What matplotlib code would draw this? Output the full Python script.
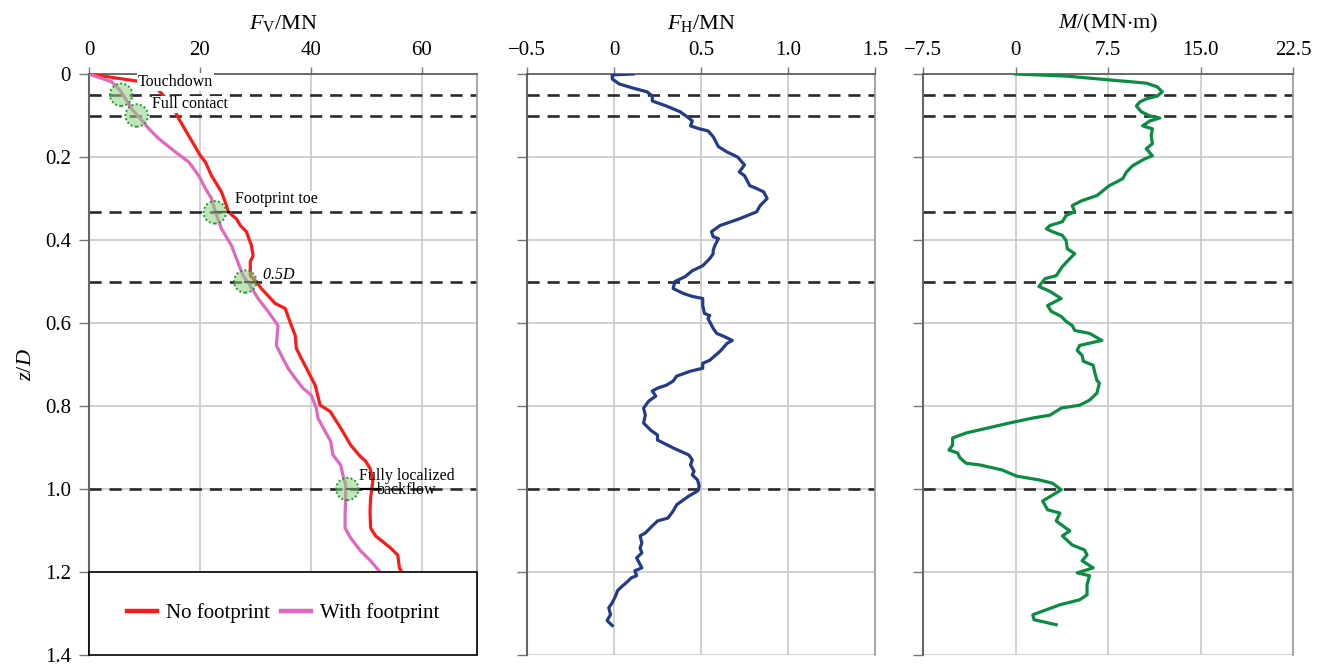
import numpy as np
import matplotlib
matplotlib.use("Agg")
import matplotlib.pyplot as plt
from matplotlib.patches import Rectangle
from matplotlib.lines import Line2D

plt.rcParams['font.family'] = ['Liberation Serif', 'DejaVu Serif']
plt.rcParams['mathtext.fontset'] = 'custom'
plt.rcParams['mathtext.rm'] = 'Liberation Serif'
plt.rcParams['mathtext.it'] = 'Liberation Serif:italic'

# ---------------- data ----------------
# Vertical force, no footprint (F_V [MN], z/D)
fv_nofp = [0, 8.6, 12.2, 13.5, 15.6, 16.2, 18.0, 20.1, 21.0, 22.1, 23.9, 24.8, 25.1, 26.6, 27.3, 28.4,
           29.3, 29.6, 29.1, 29.1, 30.0, 31.1, 33.6, 35.4, 36.5, 37.2, 37.4, 38.3, 39.5, 40.8, 41.7,
           43.5, 45.4, 47.2, 48.9, 49.9, 50.7, 51.2, 50.8, 50.7, 50.8, 51.7, 54.4, 55.7, 56.0, 56.4]
z_nofp = [0, 0.017, 0.034, 0.053, 0.091, 0.108, 0.149, 0.197, 0.212, 0.245, 0.284, 0.317, 0.332, 0.349,
          0.365, 0.380, 0.413, 0.438, 0.452, 0.486, 0.498, 0.517, 0.553, 0.565, 0.606, 0.630, 0.661,
          0.685, 0.716, 0.750, 0.798, 0.813, 0.853, 0.894, 0.921, 0.933, 0.950, 0.981, 1.022, 1.053,
          1.094, 1.113, 1.142, 1.159, 1.190, 1.200]
# Vertical force, with footprint
fv_fp = [0, 4.1, 5.7, 6.6, 7.7, 9.3, 10.8, 12.6, 15.6, 18.0, 19.8, 21.0, 22.1, 22.8, 23.9, 25.7, 26.6,
         27.8, 29.1, 30.5, 32.3, 34.1, 33.8, 34.7, 35.9, 37.2, 38.6, 40.1, 41.0, 41.3, 42.6, 43.6,
         44.0, 45.4, 45.8, 46.3, 46.3, 46.2, 46.2, 47.2, 49.0, 50.8, 52.5]
z_fp = [0, 0.019, 0.041, 0.060, 0.084, 0.108, 0.132, 0.156, 0.188, 0.212, 0.245, 0.276, 0.300, 0.332,
        0.373, 0.413, 0.445, 0.486, 0.510, 0.541, 0.572, 0.606, 0.654, 0.678, 0.709, 0.733, 0.757,
        0.774, 0.805, 0.829, 0.861, 0.885, 0.918, 0.942, 0.966, 0.990, 1.022, 1.062, 1.094, 1.118,
        1.149, 1.173, 1.200]
# Horizontal force F_H [MN]
fh = [0.11, -0.01, -0.01, 0.03, 0.11, 0.19, 0.22, 0.22, 0.30, 0.38, 0.42, 0.45, 0.44, 0.49, 0.54, 0.57,
      0.60, 0.65, 0.71, 0.75, 0.72, 0.75, 0.78, 0.82, 0.86, 0.88, 0.84, 0.82, 0.72, 0.61, 0.56, 0.57,
      0.60, 0.58, 0.57, 0.57, 0.55, 0.51, 0.45, 0.41, 0.35, 0.34, 0.40, 0.45, 0.51, 0.51, 0.52, 0.55,
      0.54, 0.57, 0.59, 0.63, 0.68, 0.65, 0.61, 0.55, 0.51, 0.51, 0.44, 0.36, 0.34, 0.30, 0.25, 0.22,
      0.24, 0.20, 0.17, 0.18, 0.17, 0.21, 0.25, 0.25, 0.34, 0.43, 0.45, 0.44, 0.46, 0.45, 0.48, 0.49,
      0.48, 0.43, 0.36, 0.34, 0.31, 0.25, 0.22, 0.18, 0.15, 0.16, 0.15, 0.16, 0.13, 0.16, 0.12, 0.13,
      0.10, 0.07, 0.05, 0.02, 0.01, -0.01, -0.03, -0.02, -0.04, -0.01]
z_fh = [0.0, 0.002, 0.012, 0.024, 0.034, 0.043, 0.053, 0.065, 0.077, 0.091, 0.103, 0.113, 0.125, 0.132,
        0.137, 0.151, 0.175, 0.188, 0.200, 0.219, 0.236, 0.245, 0.269, 0.276, 0.284, 0.300, 0.317,
        0.332, 0.349, 0.365, 0.380, 0.392, 0.397, 0.413, 0.425, 0.433, 0.445, 0.462, 0.474, 0.488,
        0.500, 0.517, 0.529, 0.536, 0.541, 0.558, 0.577, 0.582, 0.589, 0.613, 0.625, 0.632, 0.642,
        0.649, 0.668, 0.690, 0.697, 0.709, 0.716, 0.728, 0.740, 0.750, 0.757, 0.764, 0.776, 0.788,
        0.805, 0.822, 0.841, 0.858, 0.870, 0.882, 0.901, 0.918, 0.930, 0.942, 0.957, 0.966, 0.978,
        0.993, 1.005, 1.017, 1.038, 1.053, 1.070, 1.077, 1.089, 1.106, 1.113, 1.130, 1.142, 1.154,
        1.166, 1.190, 1.197, 1.209, 1.214, 1.226, 1.233, 1.245, 1.257, 1.274, 1.286, 1.303, 1.317,
        1.329]
# Moment M [MN*m]
mom = [0.0, 4.1, 10.6, 11.5, 11.9, 11.5, 10.6, 10.1, 9.8, 10.2, 10.9, 11.7, 10.9, 10.3, 11.1, 11.0,
       11.1, 10.6, 11.1, 10.5, 9.5, 9.0, 8.7, 8.2, 7.6, 7.1, 6.6, 5.4, 4.6, 4.8, 4.1, 3.8, 2.8, 2.5,
       3.0, 3.8, 4.1, 4.2, 4.8, 4.4, 3.8, 3.3, 2.4, 1.9, 2.8, 3.7, 2.6, 2.9, 3.7, 4.1, 4.6, 4.8, 6.0,
       7.0, 5.2, 5.0, 5.4, 5.5, 6.3, 6.4, 6.6, 6.8, 6.6, 6.0, 5.2, 3.7, 2.8, 1.4, -0.5, -4.0, -5.1,
       -5.1, -5.4, -4.7, -4.5, -4.0, -2.9, -1.1, 0.1, 1.9, 3.0, 3.7, 2.2, 2.6, 3.6, 3.3, 4.4, 3.8,
       4.6, 5.6, 5.8, 5.4, 6.3, 5.0, 6.0, 5.8, 5.8, 5.2, 3.6, 2.5, 1.4, 1.5, 3.3]
z_mom = [0.0, 0.005, 0.022, 0.031, 0.043, 0.053, 0.060, 0.067, 0.077, 0.091, 0.101, 0.106, 0.113,
         0.125, 0.132, 0.149, 0.168, 0.180, 0.197, 0.204, 0.221, 0.236, 0.252, 0.260, 0.269, 0.281,
         0.293, 0.305, 0.317, 0.332, 0.341, 0.356, 0.365, 0.373, 0.380, 0.389, 0.401, 0.421, 0.433,
         0.445, 0.464, 0.486, 0.493, 0.512, 0.524, 0.541, 0.558, 0.572, 0.584, 0.596, 0.606, 0.618,
         0.625, 0.642, 0.654, 0.666, 0.678, 0.692, 0.702, 0.716, 0.738, 0.745, 0.769, 0.786, 0.798,
         0.805, 0.822, 0.829, 0.841, 0.865, 0.877, 0.894, 0.906, 0.913, 0.925, 0.938, 0.942, 0.954,
         0.969, 0.978, 0.986, 1.002, 1.029, 1.050, 1.058, 1.077, 1.101, 1.113, 1.135, 1.147, 1.159,
         1.173, 1.190, 1.202, 1.209, 1.231, 1.255, 1.267, 1.279, 1.291, 1.303, 1.315, 1.327]

# key depths and events
dash_left = [0.05, 0.1, 1/3, 0.5, 1.0]
dash_mid = [0.05, 0.1, 0.5, 1.0]
dash_right = [0.05, 0.1, 1/3, 0.5, 1.0]
event_labels = ["Touchdown", "Full contact", "Footprint toe", "0.5D", "Fully localized\nbackflow"]
event_z = [0.05, 0.1, 1/3, 0.5, 1.0]
event_fv_fp = [5.8, 8.6, 22.7, 28.2, 46.6]
event_fv_nofp = [None, None, 25.3, 30.3, 52.5]

y_ticks = [0, 0.2, 0.4, 0.6, 0.8, 1.0, 1.2, 1.4]
y_ticklabels = ["0", "0.2", "0.4", "0.6", "0.8", "1.0", "1.2", "1.4"]
fv_ticks = [0, 20, 40, 60]
fv_ticklabels = ["0", "20", "40", "60"]
fh_ticks = [-0.5, 0, 0.5, 1.0, 1.5]
fh_ticklabels = ["\u22120.5", "0", "0.5", "1.0", "1.5"]
m_ticks = [-7.5, 0, 7.5, 15.0, 22.5]
m_ticklabels = ["\u22127.5", "0", "7.5", "15.0", "22.5"]

# ---------------- figure ----------------
W, H = 1322, 665
fig = plt.figure(figsize=(W / 100, H / 100), dpi=100)

def box(x0, x1, y0=74, y1=655):
    return [x0 / W, 1 - y1 / H, (x1 - x0) / W, (y1 - y0) / H]

ax1 = fig.add_axes(box(89, 477))
ax2 = fig.add_axes(box(527, 875))
ax3 = fig.add_axes(box(923, 1293))

RED = '#ff1a1a'
PINK = '#e268bd'
BLUE = '#263a8a'
GREEN = '#0a8c42'
GRID = '#c9c9c9'
DASH = (0, (4.6, 3.0))

def style(ax, xlim, xticks, xticklabels, title, showy):
    ax.set_xlim(*xlim)
    ax.set_ylim(1.4, 0)
    ax.xaxis.tick_top()
    ax.xaxis.set_label_position('top')
    ax.set_xticks(xticks)
    ax.set_xticklabels(xticklabels)
    ax.set_yticks(y_ticks)
    if showy:
        ax.set_yticklabels(y_ticklabels)
    else:
        ax.set_yticklabels([])
    ax.tick_params(axis='x', which='both', direction='out', length=5, width=1.0,
                   color='#777777', labelsize=15, pad=5)
    ax.tick_params(axis='y', which='both', direction='out', length=7, width=1.0,
                   color='#777777', labelsize=15, pad=6)
    ax.set_xlabel(title, fontsize=16, labelpad=9)
    ax.spines['bottom'].set_visible(False)
    ax.spines['top'].set_color('#555555')
    ax.spines['top'].set_linewidth(1.2)
    ax.spines['left'].set_color('#666666')
    ax.spines['left'].set_linewidth(1.5)
    ax.spines['right'].set_color('#9a9a9a')
    ax.spines['right'].set_linewidth(1.2)
    ax.grid(True, color=GRID, linewidth=1.2, zorder=0)
    ax.set_axisbelow(True)

style(ax1, (0, 70), fv_ticks, fv_ticklabels, r'$F_{\rm V}$/MN', True)
style(ax2, (-0.5, 1.5), fh_ticks, fh_ticklabels, r'$F_{\rm H}$/MN', False)
style(ax3, (-7.5, 22.5), m_ticks, m_ticklabels, r'$M$/(MN$\cdot$m)', False)
ax1.set_ylabel(r'$z/D$', fontsize=16, labelpad=6)

for ax, dl in [(ax1, dash_left), (ax2, dash_mid), (ax3, dash_right)]:
    for z in dl:
        ax.axhline(z, color='#2a2a2a', linewidth=1.9, linestyle=DASH, zorder=2)

# curves
ax1.plot(fv_nofp, z_nofp, color=RED, linewidth=2.3, zorder=4)
ax1.plot(fv_fp, z_fp, color=PINK, linewidth=2.3, zorder=4)
ax2.plot(fh, z_fh, color=BLUE, linewidth=2.3, zorder=4)
ax3.plot(mom, z_mom, color=GREEN, linewidth=2.3, zorder=4)

# event markers
for fp, nf, z in zip(event_fv_fp, event_fv_nofp, event_z):
    if nf is not None:
        ax1.plot([fp, nf], [z, z], color='black', linewidth=1.6, zorder=5)
ax1.scatter(event_fv_fp, event_z, s=260, facecolor=(0.55, 0.82, 0.5, 0.55),
            edgecolor='#1f9a3a', linewidths=1.4, linestyle=(0, (1, 1.2)), zorder=6)

# event annotations
bbox_w = dict(facecolor='white', edgecolor='none', pad=0.5)
ax1.text(8.8, 0.019, event_labels[0], fontsize=11.5, va='center', ha='left', bbox=bbox_w, zorder=7)
ax1.text(11.4, 0.073, event_labels[1], fontsize=11.5, va='center', ha='left', bbox=bbox_w, zorder=7)
ax1.text(26.4, 0.302, event_labels[2], fontsize=11.5, va='center', ha='left', bbox=bbox_w, zorder=7)
ax1.text(31.2, 0.485, r'0.5$D$', fontsize=11.5, va='center', ha='left', style='italic', zorder=7)
ax1.text(57.3, 0.985, event_labels[4], fontsize=11.5, va='center', ha='center',
         linespacing=0.85, zorder=7)

# legend area
rect = Rectangle((0, 1.2), 70, 0.2, facecolor='white', edgecolor='black', linewidth=1.2,
                 zorder=8, clip_on=False)
ax1.add_patch(rect)
handles = [Line2D([], [], color=RED, linewidth=3.2), Line2D([], [], color=PINK, linewidth=3.2)]
leg = ax1.legend(handles, ["No footprint", "With footprint"], ncol=2, frameon=False,
                 loc='center', bbox_to_anchor=(0.5, 0.0715), fontsize=15,
                 handlelength=1.45, handletextpad=0.4, columnspacing=0.55)
leg.set_zorder(9)

fig.savefig('out.png', dpi=100)
